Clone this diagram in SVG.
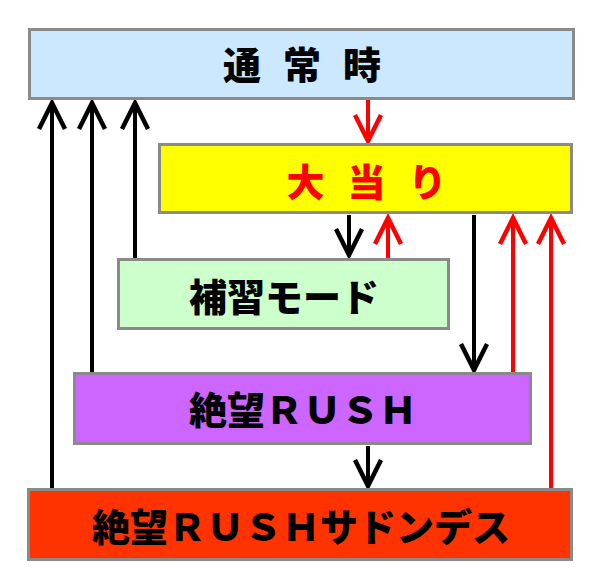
<svg xmlns="http://www.w3.org/2000/svg" width="600" height="587" viewBox="0 0 600 587">
<style>
.box{stroke:#8a8a8a;stroke-width:3}
.t{font-family:"Noto Sans CJK JP","Noto Sans",sans-serif;font-weight:900;font-size:38px;text-anchor:middle;fill:#000}
.k{fill:none;stroke:#000;stroke-width:4}
.r{fill:none;stroke:#ff0000;stroke-width:4}
</style>
<defs>
<marker id="ak" viewBox="-30 -16 34 32" refX="0" refY="0" markerWidth="34" markerHeight="32" markerUnits="userSpaceOnUse" orient="auto">
<path d="M-26,-13 L0,0 L-26,13" fill="none" stroke="#000" stroke-width="4.5"/>
</marker>
<marker id="ar" viewBox="-30 -16 34 32" refX="0" refY="0" markerWidth="34" markerHeight="32" markerUnits="userSpaceOnUse" orient="auto">
<path d="M-26,-13 L0,0 L-26,13" fill="none" stroke="#ff0000" stroke-width="4.5"/>
</marker>
</defs>
<rect width="600" height="587" fill="#fff"/>
<g id="connectors">
<path class="r" d="M368,100 V141" marker-end="url(#ar)"/>
<path class="k" d="M349,215 V255" marker-end="url(#ak)"/>
<path class="r" d="M388,258 V218" marker-end="url(#ar)"/>
<path class="k" d="M474,215 V370" marker-end="url(#ak)"/>
<path class="r" d="M513,372 V218" marker-end="url(#ar)"/>
<path class="r" d="M551,488 V218" marker-end="url(#ar)"/>
<path class="k" d="M368,446 V486" marker-end="url(#ak)"/>
<path class="k" d="M52,488 V103" marker-end="url(#ak)"/>
<path class="k" d="M92,372 V103" marker-end="url(#ak)"/>
<path class="k" d="M135,258 V103" marker-end="url(#ak)"/>
</g>
<g id="normal">
<rect class="box" x="29.5" y="29.5" width="544" height="69" fill="#cce8ff"/>
<text class="t" x="313" y="79" style="letter-spacing:22px">通常時</text>
</g>
<g id="jackpot">
<rect class="box" x="159.5" y="144.5" width="412" height="68" fill="#ffff00"/>
<text class="t" x="378" y="196" style="letter-spacing:23px;fill:#ff0000">大当り</text>
</g>
<g id="hoshu">
<rect class="box" x="118.5" y="259.5" width="330" height="69" fill="#ccffcc"/>
<text class="t" x="284" y="311">補習モード</text>
</g>
<g id="rush">
<rect class="box" x="74.5" y="373.5" width="456" height="70" fill="#cc66ff"/>
<text class="t" x="303" y="424">絶望ＲＵＳＨ</text>
</g>
<g id="suddendeath">
<rect class="box" x="28.5" y="489.5" width="543" height="70" fill="#ff3300"/>
<text class="t" x="301" y="541">絶望ＲＵＳＨサドンデス</text>
</g>
</svg>
